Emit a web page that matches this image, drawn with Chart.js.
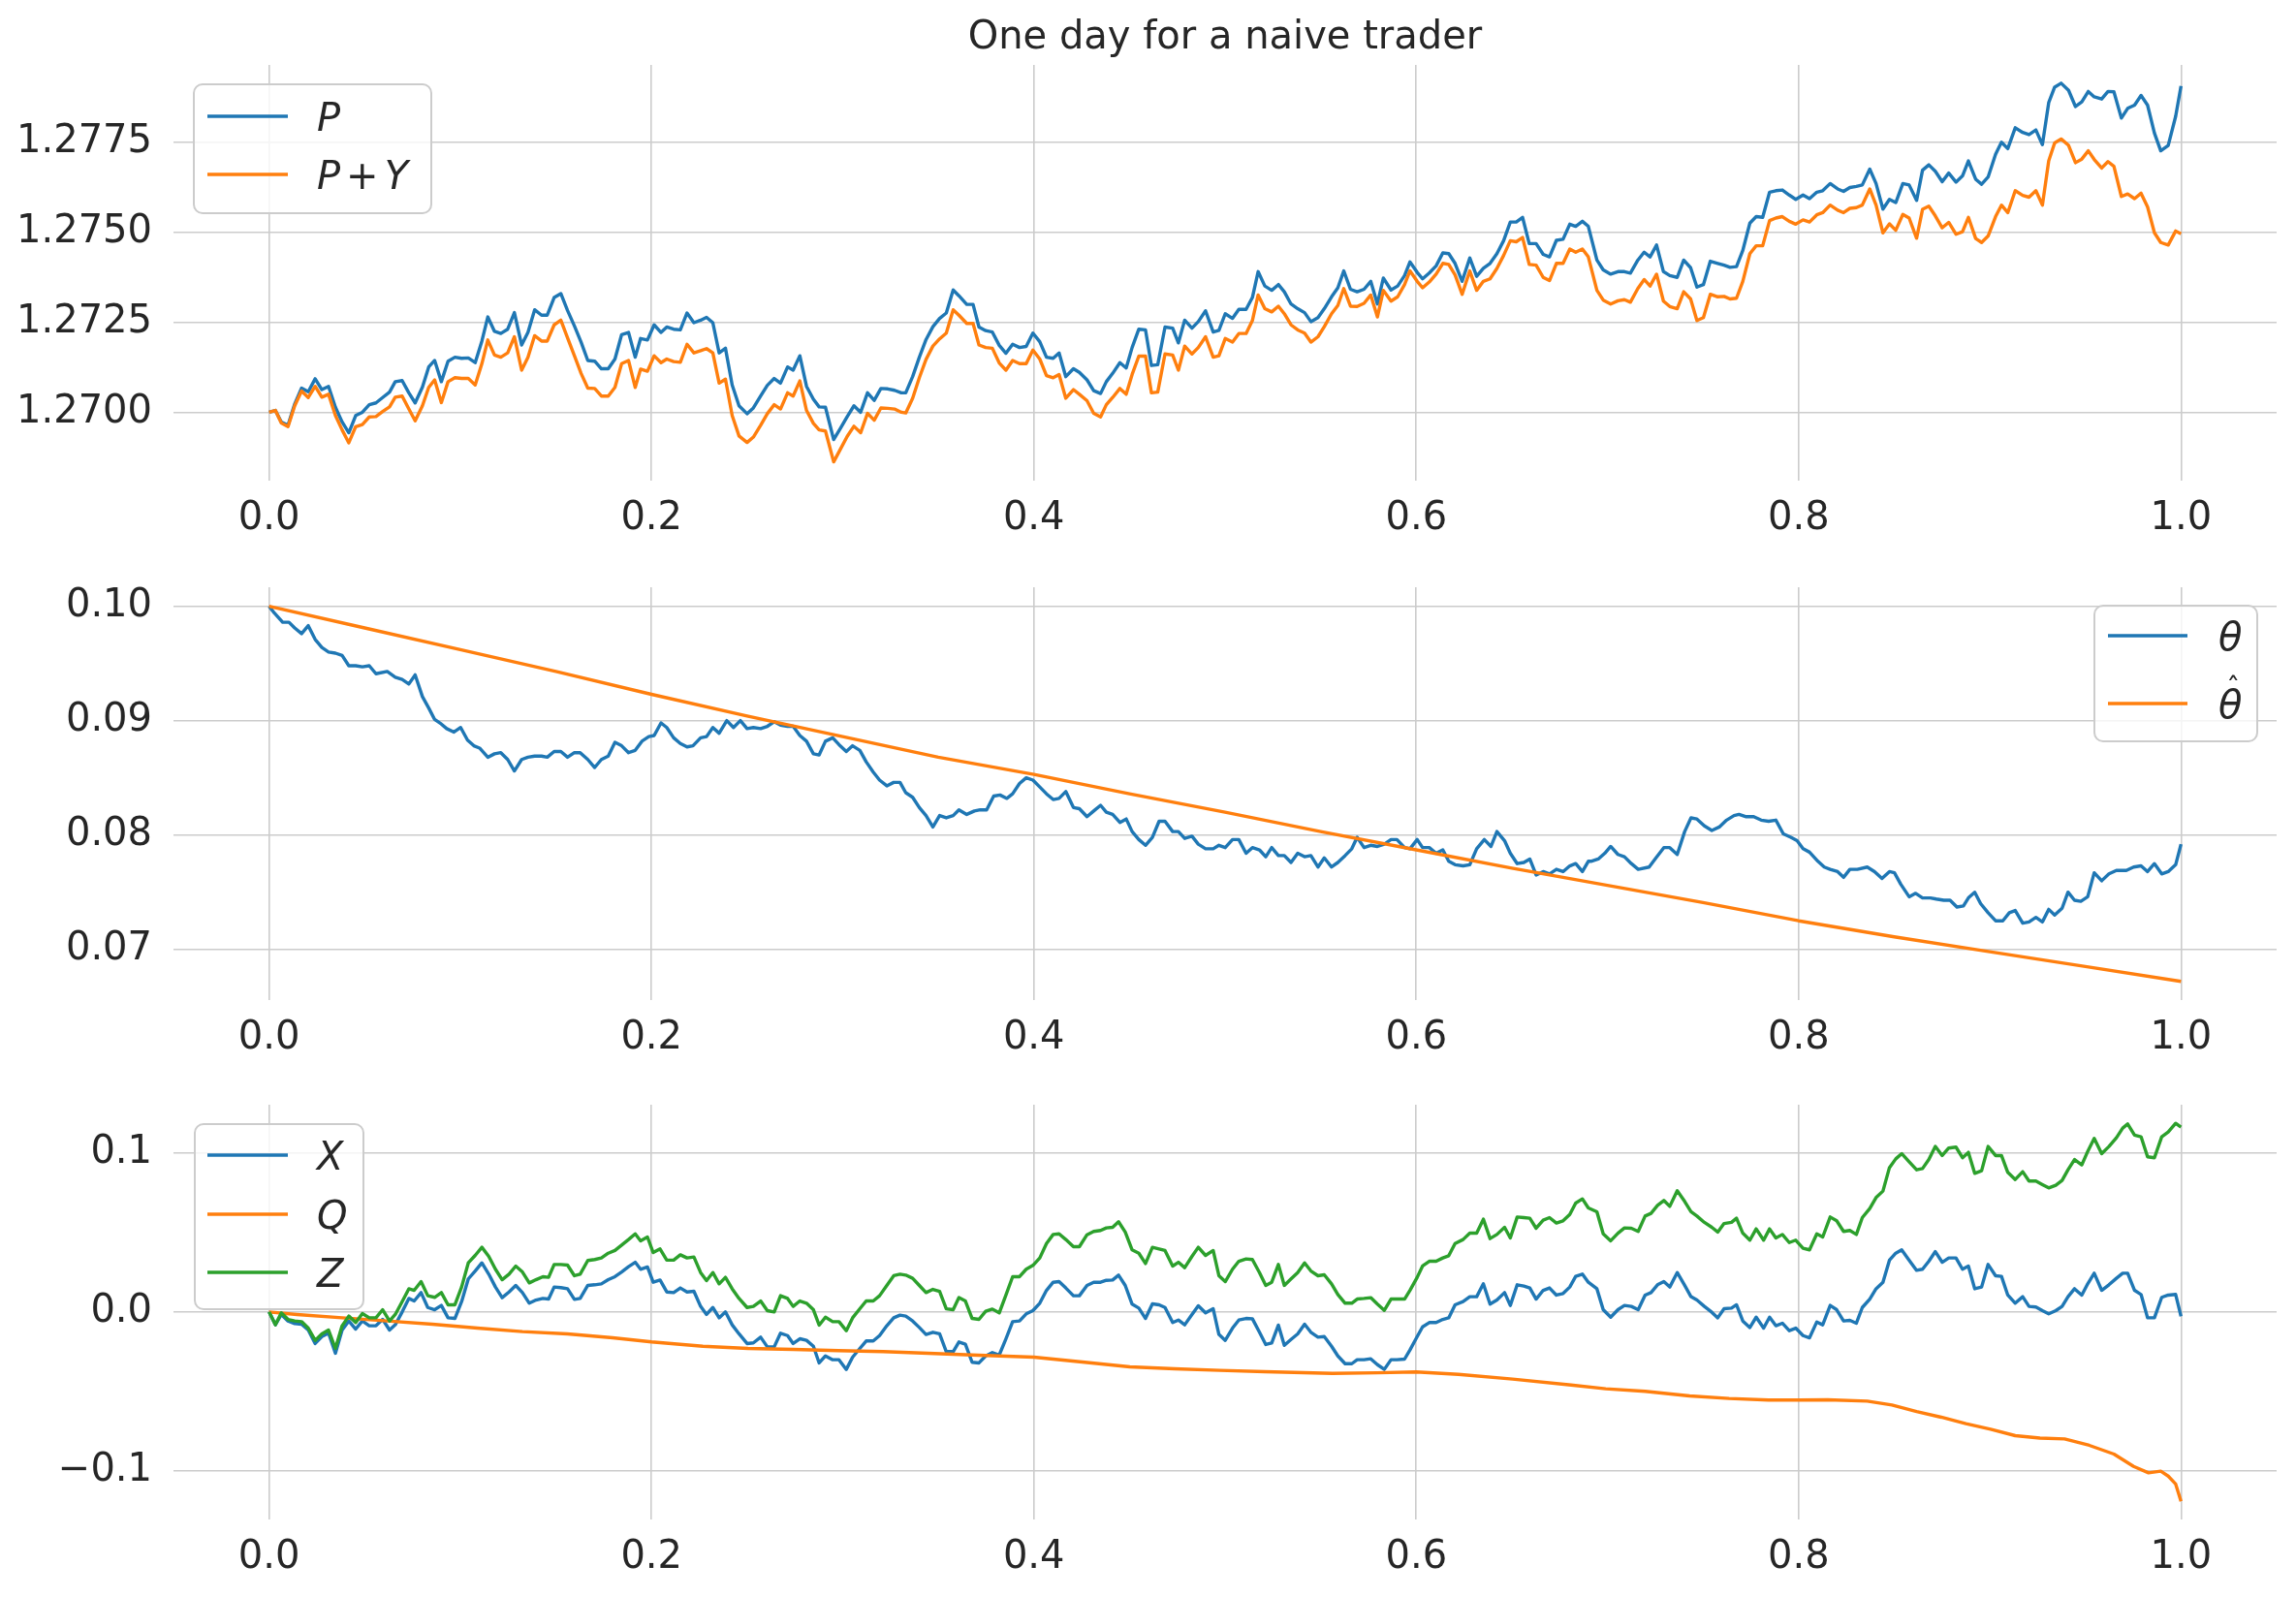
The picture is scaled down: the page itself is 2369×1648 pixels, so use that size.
<!DOCTYPE html>
<html><head><meta charset="utf-8">
<script src="https://cdn.jsdelivr.net/npm/chart.js@4.4.1/dist/chart.umd.min.js"></script>
<style>
html,body{margin:0;padding:0;background:#fff;overflow:hidden;}
#wrap{position:relative;width:2369px;height:1648px;background:#fff;}
canvas{position:absolute;left:0;}
</style></head>
<body><div id="wrap">
<canvas id="c1" width="2369" height="560" style="top:0px;width:2369px;height:560px"></canvas>
<canvas id="c2" width="2369" height="530" style="top:560px;width:2369px;height:530px"></canvas>
<canvas id="c3" width="2369" height="558" style="top:1090px;width:2369px;height:558px"></canvas>
</div>
<script>
// ---------- data ----------
const titleText = 'One day for a naive trader';
const xTicks = [0, 0.2, 0.4, 0.6, 0.8, 1.0];
const yTicksTop = [1.2700, 1.2725, 1.2750, 1.2775];
const yTicksMid = [0.07, 0.08, 0.09, 0.10];
const yTicksBot = [-0.1, 0.0, 0.1];

const tTop = [0,.0033,.0064,.0099,.0134,.0170,.0205,.0241,.0276,.0311,.0347,.0382,.0417,.0453,.0488,.0524,.0559,.0594,.0630,.0660,.0696,.0731,.0764,.0802,.0835,.0866,.0901,.0936,.0972,.1007,.1042,.1078,.1113,.1144,.1179,.1212,.1248,.1283,.1321,.1354,.1389,.1425,.1455,.1491,.1526,.1561,.1597,.1632,.1667,.1703,.1738,.1774,.1809,.1844,.1880,.1915,.1943,.1979,.2014,.2050,.2080,.2116,.2151,.2186,.2222,.2257,.2288,.2321,.2354,.2387,.2422,.2458,.2500,.2533,.2571,.2606,.2642,.2675,.2712,.2741,.2776,.2811,.2847,.2877,.2910,.2953,.2988,.3024,.3059,.3094,.3130,.3165,.3200,.3236,.3271,.3307,.3330,.3366,.3401,.3436,.3472,.3507,.3542,.3578,.3608,
.3649,.3682,.3713,.3748,.3783,.3819,.3854,.3889,.3925,.3960,.3995,.4031,.4066,.4101,.4132,.4167,.4207,.4238,.4278,.4313,.4349,.4379,.4412,.4450,.4483,.4514,.4549,.4584,.4615,.4648,.4686,.4726,.4756,.4789,.4827,.4860,.4898,.4938,.4968,.5001,.5039,.5072,.5110,.5143,.5173,.5208,.5244,.5279,.5310,.5345,.5380,.5416,.5449,.5486,.5519,.5557,.5590,.5621,.5656,.5691,.5727,.5762,.5797,.5828,.5868,.5903,.5939,.5967,.6005,.6033,.6068,.6104,.6139,.6170,.6203,.6240,.6280,.6316,.6351,.6386,.6422,.6457,.6492,.6523,.6556,.6591,.6627,.6664,.6697,.6733,.6768,.6803,.6834,.6869,.6900,
.6945,.6978,.7017,.7055,.7089,.7120,.7159,.7192,.7223,.7257,.7293,.7326,.7365,.7399,.7435,.7468,.7502,.7538,.7577,.7610,.7641,.7675,.7708,.7745,.7778,.7812,.7848,.7881,.7915,.7951,.7985,.8023,.8057,.8095,.8126,.8165,.8204,.8235,.8268,.8302,.8333,.8372,.8405,.8441,.8475,.8508,.8545,.8578,.8617,.8648,.8681,.8715,.8751,.8785,.8823,.8857,.8888,.8926,.8957,.8991,.9030,.9061,.9094,.9133,.9172,.9205,.9241,.9275,.9308,.9339,.9373,.9412,.9448,.9481,.9515,.9546,.9585,.9618,.9649,.9688,.9721,.9757,.9791,.9825,.9861,.9894,.9933,.9972,1.0];

const P = [1.27000,1.27005,1.26973,1.26964,1.27023,1.27067,1.27057,1.27093,1.27063,1.27072,
1.27014,1.26973,1.26943,1.26991,1.27000,1.27021,1.27026,1.27041,1.27056,1.27085,
1.27088,1.27054,1.27026,1.27070,1.27126,1.27144,1.27085,1.27142,1.27153,1.27150,
1.27151,1.27138,1.27198,1.27265,1.27225,1.27219,1.27231,1.27277,1.27187,1.27222,
1.27285,1.27270,1.27270,1.27319,1.27330,1.27283,1.27240,1.27195,1.27144,1.27142,
1.27121,1.27121,1.27148,1.27216,1.27222,1.27153,1.27205,1.27201,1.27243,1.27222,
1.27237,1.27231,1.27229,1.27276,1.27249,1.27256,1.27264,1.27249,1.27165,1.27178,
1.27076,1.27018,1.26996,1.27012,1.27045,1.27075,1.27094,1.27081,1.27126,1.27117,
1.27157,1.27072,1.27036,1.27015,1.27014,1.26924,1.26955,1.26988,1.27018,1.27000,
1.27054,1.27033,1.27066,1.27065,1.27061,1.27054,1.27054,1.27099,1.27153,1.27202,
1.27238,1.27261,1.27276,1.27340,1.27324,
1.27300,1.27300,1.27237,1.27227,1.27223,1.27186,1.27164,1.27189,1.27180,1.27183,
1.27220,1.27196,1.27153,1.27150,1.27165,1.27099,1.27121,1.27111,1.27090,1.27060,
1.27052,1.27085,1.27108,1.27138,1.27123,1.27180,1.27231,1.27229,1.27130,1.27132,
1.27237,1.27234,1.27193,1.27256,1.27234,1.27252,1.27282,1.27223,1.27228,1.27274,
1.27261,1.27286,1.27286,1.27319,1.27391,1.27351,1.27339,1.27355,1.27335,1.27301,
1.27288,1.27277,1.27252,1.27263,1.27288,1.27321,1.27346,1.27393,1.27342,1.27335,
1.27342,1.27364,1.27301,1.27373,1.27340,1.27351,1.27380,1.27418,1.27389,1.27371,
1.27387,1.27407,1.27443,1.27441,1.27414,1.27364,1.27429,1.27378,1.27400,1.27414,
1.27441,1.27477,1.27529,1.27529,1.27542,1.27469,1.27469,1.27439,1.27432,1.27478,
1.27481,1.27523,1.27517,1.27531,1.27517,
1.27423,1.27396,1.27384,1.27391,1.27391,1.27387,1.27423,1.27445,1.27432,1.27465,
1.27391,1.27380,1.27375,1.27423,1.27402,1.27348,1.27355,1.27420,1.27414,1.27409,
1.27403,1.27405,1.27450,1.27526,1.27544,1.27542,1.27612,1.27616,1.27618,1.27604,
1.27592,1.27604,1.27594,1.27612,1.27616,1.27636,1.27621,1.27614,1.27625,1.27628,
1.27632,1.27676,1.27636,1.27565,1.27592,1.27583,1.27636,1.27632,1.27589,1.27673,
1.27688,1.27670,1.27641,1.27665,1.27640,1.27657,1.27699,1.27648,1.27634,1.27654,
1.27717,1.27751,1.27733,1.27791,1.27778,1.27772,1.27785,1.27744,1.27861,1.27904,
1.27915,1.27895,1.27850,1.27863,1.27892,1.27877,1.27871,1.27892,1.27891,1.27818,
1.27845,1.27854,1.27881,1.27854,1.27776,1.27727,1.27742,1.27823,1.27907];

const PY = [1.27000,1.27005,1.26970,1.26960,1.27018,1.27059,1.27041,1.27072,1.27042,1.27050,
1.26991,1.26951,1.26915,1.26960,1.26966,1.26987,1.26988,1.27002,1.27015,1.27042,
1.27045,1.27009,1.26976,1.27018,1.27069,1.27090,1.27027,1.27085,1.27096,1.27094,
1.27094,1.27076,1.27135,1.27201,1.27159,1.27153,1.27165,1.27210,1.27117,1.27153,
1.27213,1.27198,1.27198,1.27243,1.27256,1.27207,1.27157,1.27108,1.27067,1.27066,
1.27045,1.27045,1.27069,1.27135,1.27144,1.27069,1.27120,1.27114,1.27157,1.27138,
1.27148,1.27141,1.27139,1.27189,1.27165,1.27171,1.27177,1.27165,1.27081,1.27092,
1.26991,1.26934,1.26916,1.26931,1.26964,1.26996,1.27021,1.27009,1.27054,1.27045,
1.27087,1.27005,1.26969,1.26951,1.26948,1.26862,1.26897,1.26933,1.26961,1.26943,
1.26997,1.26978,1.27012,1.27011,1.27009,1.27000,1.26998,1.27039,1.27096,1.27147,
1.27184,1.27204,1.27220,1.27285,1.27270,
1.27247,1.27247,1.27187,1.27180,1.27178,1.27137,1.27117,1.27144,1.27135,1.27135,
1.27173,1.27148,1.27102,1.27096,1.27105,1.27039,1.27063,1.27050,1.27032,1.26997,
1.26987,1.27021,1.27041,1.27066,1.27050,1.27105,1.27156,1.27156,1.27054,1.27056,
1.27162,1.27159,1.27117,1.27184,1.27162,1.27180,1.27210,1.27153,1.27157,1.27205,
1.27195,1.27219,1.27219,1.27255,1.27326,1.27288,1.27279,1.27295,1.27274,1.27243,
1.27229,1.27220,1.27195,1.27210,1.27238,1.27274,1.27297,1.27344,1.27295,1.27294,
1.27303,1.27326,1.27265,1.27339,1.27309,1.27321,1.27355,1.27393,1.27364,1.27346,
1.27362,1.27384,1.27414,1.27411,1.27382,1.27328,1.27393,1.27339,1.27364,1.27371,
1.27400,1.27436,1.27477,1.27474,1.27486,1.27411,1.27409,1.27375,1.27366,1.27414,
1.27414,1.27454,1.27445,1.27454,1.27432,
1.27339,1.27312,1.27301,1.27310,1.27313,1.27306,1.27344,1.27369,1.27351,1.27384,
1.27309,1.27294,1.27288,1.27335,1.27315,1.27255,1.27263,1.27328,1.27321,1.27322,
1.27315,1.27317,1.27364,1.27441,1.27463,1.27463,1.27533,1.27540,1.27544,1.27531,
1.27523,1.27535,1.27529,1.27549,1.27555,1.27576,1.27562,1.27555,1.27567,1.27569,
1.27576,1.27621,1.27576,1.27499,1.27524,1.27506,1.27550,1.27540,1.27484,1.27564,
1.27573,1.27546,1.27513,1.27528,1.27495,1.27502,1.27542,1.27483,1.27472,1.27490,
1.27544,1.27576,1.27555,1.27616,1.27603,1.27598,1.27616,1.27576,1.27699,1.27749,
1.27760,1.27742,1.27694,1.27704,1.27727,1.27703,1.27679,1.27697,1.27684,1.27600,
1.27607,1.27594,1.27609,1.27571,1.27499,1.27472,1.27465,1.27504,1.27496];

const tTheta = [0,.0028,.0071,.0104,.0134,.0170,.0205,.0241,.0276,.0311,.0347,.0382,.0417,.0453,.0488,.0524,.0559,.0618,.0660,.0696,.0731,.0764,.0802,.0835,.0866,.0901,.0929,.0967,.1002,.1038,.1071,.1101,.1144,.1179,.1212,.1248,.1283,.1321,.1354,.1389,.1425,.1455,.1491,.1526,.1561,.1597,.1627,.1667,.1703,.1738,.1774,.1809,.1844,.1880,.1915,.1950,.1986,.2014,.2050,.2080,.2116,.2151,.2186,.2217,.2257,.2288,.2321,.2354,.2394,.2429,.2465,.2500,.2533,.2571,.2606,.2642,.2675,.2712,.2741,.2776,.2811,.2847,.2877,.2910,.2948,.2981,.3019,.3052,.3090,.3123,.3160,.3193,.3231,.3267,.3300,.3330,.3366,.3401,.3436,.3472,.3507,.3542,.3578,.3608,
.3649,.3689,.3720,.3753,.3790,.3823,.3859,.3889,.3925,.3960,.3995,.4031,.4066,.4101,.4132,.4167,.4207,.4238,.4278,.4313,.4349,.4379,.4412,.4450,.4483,.4514,.4549,.4584,.4620,.4655,.4686,.4726,.4756,.4789,.4827,.4860,.4898,.4938,.4968,.5001,.5039,.5072,.5110,.5143,.5180,.5213,.5244,.5279,.5310,.5345,.5380,.5416,.5449,.5486,.5519,.5557,.5590,.5628,.5663,.5691,.5727,.5762,.5797,.5833,.5868,.5899,.5939,.5967,.6005,.6033,.6068,.6104,.6139,.6170,.6203,.6245,.6280,.6316,.6356,.6391,.6422,.6462,.6492,.6528,.6563,.6594,.6627,.6664,.6697,.6733,.6768,.6803,.6834,.6869,.6900,
.6914,.6952,.6986,.7017,.7055,.7089,.7125,.7161,.7218,.7254,.7295,.7326,.7365,.7404,.7437,.7468,.7507,.7546,.7585,.7623,.7662,.7688,.7726,.7765,.7804,.7843,.7881,.7920,.7959,.7992,.8023,.8057,.8101,.8134,.8165,.8204,.8235,.8268,.8307,.8359,.8397,.8436,.8475,.8501,.8534,.8578,.8612,.8648,.8689,.8720,.8759,.8792,.8828,.8862,.8888,.8921,.8952,.8991,.9030,.9068,.9102,.9133,.9172,.9205,.9241,.9275,.9308,.9339,.9378,.9409,.9443,.9476,.9512,.9546,.9585,.9623,.9662,.9714,.9752,.9791,.9825,.9861,.9899,.9933,.9972,1.0];

const theta = [.1000,.0994,.0986,.0986,.0981,.0976,.0983,.0971,.0964,.0960,.0959,.0957,.0948,.0948,.0947,.0948,.0941,.0943,.0938,.0936,.0932,.0940,.0921,.0911,.0901,.0897,.0893,.0890,.0894,.0883,.0878,.0876,.0868,.0871,.0872,.0866,.0856,.0866,.0868,.0869,.0869,.0868,.0873,.0873,.0868,.0872,.0872,.0866,.0859,.0866,.0869,.0881,.0878,.0872,.0874,.0882,.0886,.0887,.0898,.0894,.0885,.0880,.0877,.0878,.0885,.0886,.0894,.0889,.0900,.0894,.0900,.0893,.0894,.0893,.0895,.0899,.0896,.0895,.0895,.0887,.0882,.0871,.0870,.0882,.0885,.0879,.0873,.0878,.0874,.0864,.0855,.0848,.0843,.0846,.0846,.0837,.0833,.0824,.0817,.0807,.0817,.0815,.0817,.0822,
.0818,.0821,.0822,.0822,.0834,.0835,.0832,.0836,.0845,.0850,.0848,.0842,.0836,.0831,.0832,.0838,.0824,.0823,.0816,.0821,.0826,.0820,.0818,.0811,.0814,.0803,.0796,.0791,.0798,.0812,.0812,.0803,.0803,.0797,.0799,.0792,.0788,.0788,.0791,.0789,.0796,.0796,.0784,.0789,.0787,.0781,.0789,.0782,.0782,.0776,.0784,.0781,.0782,.0772,.0780,.0772,.0776,.0782,.0788,.0798,.0789,.0791,.0790,.0792,.0796,.0796,.0789,.0788,.0796,.0789,.0789,.0784,.0787,.0777,.0774,.0773,.0774,.0788,.0796,.0790,.0803,.0795,.0784,.0775,.0776,.0779,.0765,.0768,.0766,.0770,.0768,.0773,.0775,.0768,.0777,
.0777,.0779,.0784,.0790,.0783,.0781,.0775,.0770,.0772,.0780,.0789,.0789,.0783,.0803,.0815,.0814,.0808,.0804,.0807,.0813,.0817,.0818,.0816,.0816,.0813,.0812,.0813,.0801,.0798,.0795,.0788,.0785,.0777,.0772,.0770,.0768,.0763,.0770,.0770,.0772,.0768,.0762,.0768,.0767,.0757,.0746,.0749,.0745,.0745,.0744,.0743,.0743,.0737,.0738,.0745,.0750,.0740,.0732,.0725,.0725,.0732,.0734,.0723,.0724,.0728,.0724,.0735,.0730,.0736,.0750,.0743,.0742,.0746,.0767,.0760,.0766,.0769,.0769,.0772,.0773,.0768,.0775,.0766,.0768,.0774,.0792];

const tThetaHat = [0,.05,.1,.15,.2,.25,.3,.35,.4,.45,.5,.55,.6,.65,.7,.75,.8,.85,.9,.95,1.0];
const thetaHat = [.1000,.0981,.0962,.0943,.0923,.0904,.0886,.0868,.0853,.0836,.0820,.0803,.0787,.0771,.0756,.0741,.0725,.0711,.0698,.0685,.0672];

const tXZ = [0,.0033,.0064,.0099,.0134,.0170,.0205,.0241,.0276,.0311,.0347,.0382,.0417,.0453,.0488,.0524,.0559,.0594,.0630,.0660,.0696,.0731,.0759,.0795,.0830,.0866,.0901,.0936,.0972,.1007,.1042,.1078,.1113,.1149,.1184,.1219,.1255,.1290,.1325,.1361,.1396,.1432,.1462,.1491,.1526,.1561,.1597,.1627,.1667,.1703,.1738,.1774,.1809,.1844,.1880,.1915,.1943,.1979,.2009,.2045,.2080,.2116,.2151,.2186,.2222,.2257,.2288,.2321,.2354,.2387,.2422,.2458,.2500,.2533,.2571,.2606,.2642,.2675,.2712,.2741,.2776,.2811,.2847,.2877,.2910,.2948,.2981,.3019,.3052,.3090,.3123,.3160,.3193,.3231,.3267,.3300,.3330,.3366,.3401,.3436,.3472,.3507,.3542,.3578,.3608,
.3642,.3677,.3713,.3748,.3783,.3819,.3854,.3889,.3925,.3960,.3995,.4031,.4066,.4101,.4132,.4167,.4207,.4238,.4278,.4313,.4349,.4379,.4412,.4443,.4478,.4514,.4549,.4584,.4620,.4655,.4686,.4726,.4756,.4789,.4827,.4860,.4898,.4938,.4968,.5001,.5039,.5072,.5110,.5143,.5180,.5213,.5244,.5279,.5310,.5345,.5380,.5416,.5449,.5486,.5519,.5557,.5590,.5628,.5663,.5691,.5727,.5762,.5797,.5833,.5868,.5899,.5939,.5967,.6005,.6033,.6068,.6104,.6139,.6170,.6203,.6245,.6280,.6316,.6351,.6386,.6422,.6462,.6492,.6528,.6563,.6594,.6627,.6664,.6697,.6733,.6768,.6803,.6834,.6869,.6900,
.6945,.6978,.7017,.7055,.7089,.7125,.7161,.7197,.7228,.7262,.7295,.7326,.7365,.7404,.7437,.7468,.7507,.7546,.7577,.7610,.7649,.7675,.7708,.7745,.7778,.7817,.7848,.7881,.7915,.7951,.7985,.8023,.8057,.8095,.8126,.8165,.8199,.8235,.8268,.8302,.8333,.8372,.8405,.8441,.8475,.8508,.8539,.8578,.8617,.8648,.8681,.8715,.8751,.8785,.8823,.8857,.8888,.8921,.8957,.8991,.9030,.9061,.9094,.9133,.9172,.9205,.9241,.9275,.9308,.9345,.9378,.9409,.9443,.9481,.9512,.9546,.9585,.9623,.9662,.9695,.9721,.9757,.9791,.9825,.9861,.9899,.9933,.9972,1.0];

const X = [0,-.0081,-.0016,-.0057,-.0073,-.0077,-.0114,-.0199,-.0155,-.0134,-.0260,-.0114,-.0057,-.0108,-.0057,-.0087,-.0087,-.0047,-.0114,-.0081,0,.0085,.0069,.0122,.0028,.0014,.0041,-.0037,-.0041,.0065,.0208,.0258,.0309,.0238,.0157,.0090,.0126,.0167,.0122,.0055,.0075,.0085,.0081,.0157,.0153,.0146,.0079,.0085,.0167,.0171,.0177,.0203,.0222,.0252,.0285,.0313,.0269,.0283,.0187,.0201,.0126,.0122,.0151,.0126,.0130,.0035,-.0016,.0028,-.0037,0,-.0081,-.0138,-.0199,-.0195,-.0159,-.0220,-.0220,-.0134,-.0149,-.0199,-.0169,-.0179,-.0216,-.0321,-.0277,-.0301,-.0301,-.0362,-.0285,-.0230,-.0183,-.0183,-.0149,-.0087,-.0037,-.0020,-.0026,-.0057,-.0098,-.0142,-.0128,-.0138,-.0250,-.0250,-.0189,
-.0203,-.0317,-.0321,-.0277,-.0256,-.0271,-.0169,-.0061,-.0057,-.0012,.0008,.0055,.0136,.0187,.0191,.0151,.0102,.0102,.0167,.0187,.0187,.0199,.0201,.0232,.0167,.0049,.0024,-.0041,.0051,.0045,.0028,-.0067,-.0051,-.0081,-.0016,.0039,-.0006,.0020,-.0142,-.0179,-.0102,-.0051,-.0041,-.0043,-.0128,-.0205,-.0195,-.0083,-.0210,-.0173,-.0138,-.0077,-.0128,-.0159,-.0155,-.0216,-.0277,-.0326,-.0326,-.0301,-.0301,-.0295,-.0332,-.0362,-.0301,-.0301,-.0297,-.0240,-.0155,-.0094,-.0067,-.0067,-.0047,-.0037,.0045,.0065,.0096,.0096,.0177,.0049,.0075,.0122,.0041,.0171,.0163,.0151,.0081,.0136,.0151,.0106,.0116,.0157,.0224,.0238,.0187,
.0146,.0014,-.0033,.0014,.0041,.0035,.0014,.0106,.0122,.0171,.0191,.0157,.0248,.0167,.0096,.0075,.0035,-.0002,-.0037,.0020,.0024,.0045,-.0057,-.0098,-.0033,-.0102,-.0033,-.0087,-.0071,-.0118,-.0102,-.0149,-.0163,-.0063,-.0081,.0041,.0014,-.0057,-.0053,-.0071,.0028,.0081,.0146,.0187,.0326,.0370,.0391,.0326,.0262,.0269,.0319,.0380,.0313,.0340,.0340,.0269,.0289,.0146,.0157,.0299,.0228,.0224,.0106,.0055,.0096,.0035,.0031,.0008,-.0012,.0008,.0035,.0096,.0146,.0106,.0177,.0244,.0136,.0171,.0212,.0244,.0244,.0136,.0110,-.0037,-.0037,.0092,.0106,.0110,-.0028];

const Z = [0,-.0081,-.0006,-.0047,-.0057,-.0061,-.0102,-.0179,-.0138,-.0114,-.0230,-.0087,-.0026,-.0067,-.0010,-.0037,-.0037,.0014,-.0057,-.0016,.0065,.0146,.0136,.0191,.0102,.0092,.0122,.0045,.0045,.0157,.0309,.0356,.0407,.0350,.0269,.0203,.0238,.0289,.0252,.0183,.0203,.0222,.0218,.0299,.0299,.0295,.0228,.0238,.0324,.0330,.0340,.0370,.0387,.0421,.0456,.0492,.0448,.0472,.0374,.0397,.0326,.0326,.0360,.0340,.0346,.0248,.0197,.0248,.0177,.0218,.0146,.0085,.0028,.0035,.0069,.0008,0,.0102,.0085,.0035,.0069,.0055,.0014,-.0083,-.0033,-.0061,-.0061,-.0118,-.0037,.0020,.0069,.0069,.0102,.0167,.0228,.0238,.0232,.0212,.0167,.0122,.0142,.0130,.0020,.0014,.0090,
.0069,-.0041,-.0047,.0004,.0018,-.0006,.0106,.0222,.0222,.0269,.0293,.0340,.0431,.0488,.0492,.0456,.0411,.0411,.0486,.0507,.0513,.0529,.0533,.0568,.0503,.0391,.0370,.0305,.0407,.0397,.0387,.0289,.0313,.0279,.0350,.0407,.0356,.0387,.0228,.0191,.0269,.0319,.0334,.0330,.0248,.0167,.0187,.0299,.0167,.0208,.0248,.0309,.0258,.0228,.0234,.0177,.0110,.0055,.0055,.0081,.0085,.0090,.0049,.0010,.0081,.0081,.0081,.0136,.0218,.0289,.0319,.0319,.0340,.0354,.0431,.0456,.0496,.0496,.0584,.0462,.0488,.0533,.0466,.0598,.0594,.0590,.0527,.0578,.0594,.0560,.0574,.0614,.0686,.0712,.0655,
.0631,.0492,.0448,.0496,.0529,.0527,.0507,.0604,.0621,.0671,.0702,.0665,.0763,.0696,.0631,.0604,.0564,.0533,.0503,.0557,.0564,.0590,.0496,.0452,.0523,.0452,.0523,.0466,.0488,.0437,.0452,.0401,.0391,.0492,.0472,.0598,.0574,.0507,.0513,.0488,.0594,.0651,.0720,.0761,.0909,.0964,.0997,.0946,.0895,.0903,.0960,.1042,.0985,.1032,.1038,.0971,.1005,.0873,.0889,.1042,.0985,.0985,.0879,.0834,.0883,.0824,.0824,.0802,.0781,.0798,.0828,.0895,.0960,.0926,.1011,.1093,.0997,.1042,.1097,.1158,.1184,.1113,.1103,.0977,.0971,.1103,.1133,.1188,.1164];

const tQ = [0,.0146,.0382,.0618,.0854,.1090,.1325,.1561,.1797,.2,.2269,.2505,.2741,.2976,.3212,.3448,.3677,.4,.4266,.4502,.4737,.4973,.5208,.5562,.5797,.6,.6221,.6504,.681,.6991,.7197,.743,.7636,.7843,.8,.8152,.8359,.8488,.8617,.8746,.8875,.9004,.9133,.9262,.9391,.952,.9649,.9752,.983,.9894,.9933,.9972,1.0];
const Q = [0,-.0016,-.0037,-.0057,-.0077,-.0102,-.0124,-.0138,-.0163,-.0189,-.0216,-.0230,-.0236,-.0244,-.0250,-.0260,-.0271,-.0285,-.0317,-.0346,-.0358,-.0368,-.0376,-.0387,-.0383,-.0378,-.0393,-.0423,-.0460,-.0484,-.0500,-.0529,-.0545,-.0555,-.0555,-.0553,-.0562,-.0586,-.0627,-.0663,-.0704,-.0739,-.0779,-.0794,-.0800,-.0840,-.0895,-.0973,-.1013,-.1003,-.1034,-.1084,-.1192];

// ---------- styling ----------
const C_BLUE = '#1f77b4', C_ORANGE = '#ff7f0e', C_GREEN = '#2ca02c';
const TXT = '#262626', GRID = '#cccccc';
const FONT = 'DejaVu Sans';
const FS = 40;
const LW = 3.4;

Chart.defaults.font.family = FONT;
Chart.defaults.font.size = FS;
Chart.defaults.color = TXT;

function pts(ts, vs) {
  const n = Math.min(ts.length, vs.length), a = [];
  for (let i = 0; i < n; i++) a.push({x: ts[i], y: vs[i]});
  return a;
}
function ds(label, ts, vs, color, order) {
  return {label, data: pts(ts, vs), borderColor: color, backgroundColor: color,
    borderWidth: LW, pointRadius: 0, pointHoverRadius: 0, tension: 0, fill: false,
    borderJoinStyle: 'round', borderCapStyle: 'butt', order, parsing: false};
}

// math-style label: parts [{t, it}]
function drawMath(ctx, parts, x, baseline) {
  let cx = x;
  parts.forEach(p => {
    ctx.font = (p.it ? 'italic ' : '') + FS + 'px ' + FONT;
    ctx.fillText(p.t, cx, baseline);
    cx += ctx.measureText(p.t).width + (p.gap || 0);
  });
  return cx;
}

const legendPlugin = {
  id: 'mplLegend',
  afterDraw(chart, args, opts) {
    if (!opts || !opts.box) return;
    const ctx = chart.ctx, b = opts.box;
    ctx.save();
    ctx.beginPath();
    if (ctx.roundRect) ctx.roundRect(b.x, b.y, b.w, b.h, 9); else ctx.rect(b.x, b.y, b.w, b.h);
    ctx.fillStyle = 'rgba(255,255,255,0.8)';
    ctx.fill();
    ctx.lineWidth = 2;
    ctx.strokeStyle = GRID;
    ctx.stroke();
    opts.rows.forEach(r => {
      const d = chart.data.datasets[r.ds];
      ctx.beginPath();
      ctx.moveTo(opts.hx0, r.y); ctx.lineTo(opts.hx1, r.y);
      ctx.strokeStyle = d.borderColor; ctx.lineWidth = LW; ctx.lineCap = 'butt';
      ctx.stroke();
      ctx.fillStyle = TXT;
      ctx.textAlign = 'left'; ctx.textBaseline = 'alphabetic';
      const end = drawMath(ctx, r.parts, opts.tx, r.y + 14.5);
      if (r.hat) {
        ctx.font = '28px ' + FONT;
        ctx.textAlign = 'center';
        ctx.fillText('\u02C6', (opts.tx + end) / 2 + 3, r.y - 6);
      }
    });
    ctx.restore();
  }
};

const titlePlugin = {
  id: 'mplTitle',
  afterDraw(chart, args, opts) {
    if (!opts || !opts.text) return;
    const ctx = chart.ctx, a = chart.chartArea;
    ctx.save();
    ctx.font = FS + 'px ' + FONT;
    ctx.fillStyle = TXT;
    ctx.textAlign = 'center';
    ctx.textBaseline = 'alphabetic';
    ctx.fillText(opts.text, (a.left + a.right) / 2, opts.baseline);
    ctx.restore();
  }
};

function makeChart(id, datasets, y, padTop, xH, legendOpts, titleOpts) {
  return new Chart(document.getElementById(id), {
    type: 'line',
    data: {datasets},
    plugins: [legendPlugin, titlePlugin],
    options: {
      responsive: false, animation: false, devicePixelRatio: 1,
      events: [],
      layout: {padding: {top: padTop, right: 20, left: 0, bottom: 0}},
      plugins: {legend: {display: false}, tooltip: {enabled: false},
        mplLegend: legendOpts, mplTitle: titleOpts || {}},
      scales: {
        x: {type: 'linear', min: -0.05, max: 1.05,
          afterBuildTicks: s => { s.ticks = xTicks.map(v => ({value: v})); },
          afterFit: s => { s.height = xH; },
          ticks: {callback: v => v.toFixed(1), padding: 16, maxRotation: 0, autoSkip: false, color: TXT, font: {size: FS, family: FONT}},
          grid: {color: GRID, lineWidth: 1.6, drawTicks: false},
          border: {display: false}},
        y: {type: 'linear', min: y.min, max: y.max,
          afterBuildTicks: s => { s.ticks = y.ticks.map(v => ({value: v})); },
          afterFit: s => { s.width = 179; },
          ticks: {callback: y.fmt, padding: 22, autoSkip: false, color: TXT, font: {size: FS, family: FONT}},
          grid: {color: GRID, lineWidth: 1.6, drawTicks: false},
          border: {display: false}}
      }
    }
  });
}

// Panel 1: P and P+Y
makeChart('c1',
  [ds('P', tTop, P, C_BLUE, 1), ds('P + Y', tTop, PY, C_ORANGE, 0)],
  {min: 1.268098, max: 1.279658, ticks: yTicksTop, fmt: v => v.toFixed(4)},
  67, 64,
  {box: {x: 200, y: 87, w: 245, h: 133}, hx0: 214, hx1: 297, tx: 327,
   rows: [{ds: 0, y: 120, parts: [{t: 'P', it: true}]},
          {ds: 1, y: 180, parts: [{t: 'P', it: true, gap: 6}, {t: '+', it: false, gap: 6}, {t: 'Y', it: true}]}]},
  {text: titleText, baseline: 50});

// Panel 2: theta and theta-hat
makeChart('c2',
  [ds('\u03B8', tTheta, theta, C_BLUE, 1), ds('\u03B8\u0302', tThetaHat, thetaHat, C_ORANGE, 0)],
  {min: 0.06557, max: 0.10166, ticks: yTicksMid, fmt: v => v.toFixed(2)},
  43, 58,
  {box: {x: 2161, y: 65, w: 168, h: 140}, hx0: 2175, hx1: 2257, tx: 2289,
   rows: [{ds: 0, y: 96, parts: [{t: '\u03B8', it: true}]},
          {ds: 1, y: 166, parts: [{t: '\u03B8', it: true}], hat: true}]});

// Panel 3: X, Q, Z
makeChart('c3',
  [ds('X', tXZ, X, C_BLUE, 2), ds('Q', tQ, Q, C_ORANGE, 1), ds('Z', tXZ, Z, C_GREEN, 0)],
  {min: -0.1307, max: 0.1305, ticks: yTicksBot, fmt: v => v.toFixed(1).replace('-', '\u2212')},
  50, 80,
  {box: {x: 201, y: 70, w: 174, h: 191}, hx0: 214, hx1: 297, tx: 327,
   rows: [{ds: 0, y: 102, parts: [{t: 'X', it: true}]},
          {ds: 1, y: 163, parts: [{t: 'Q', it: true}]},
          {ds: 2, y: 223, parts: [{t: 'Z', it: true}]}]});
</script>
</body></html>
